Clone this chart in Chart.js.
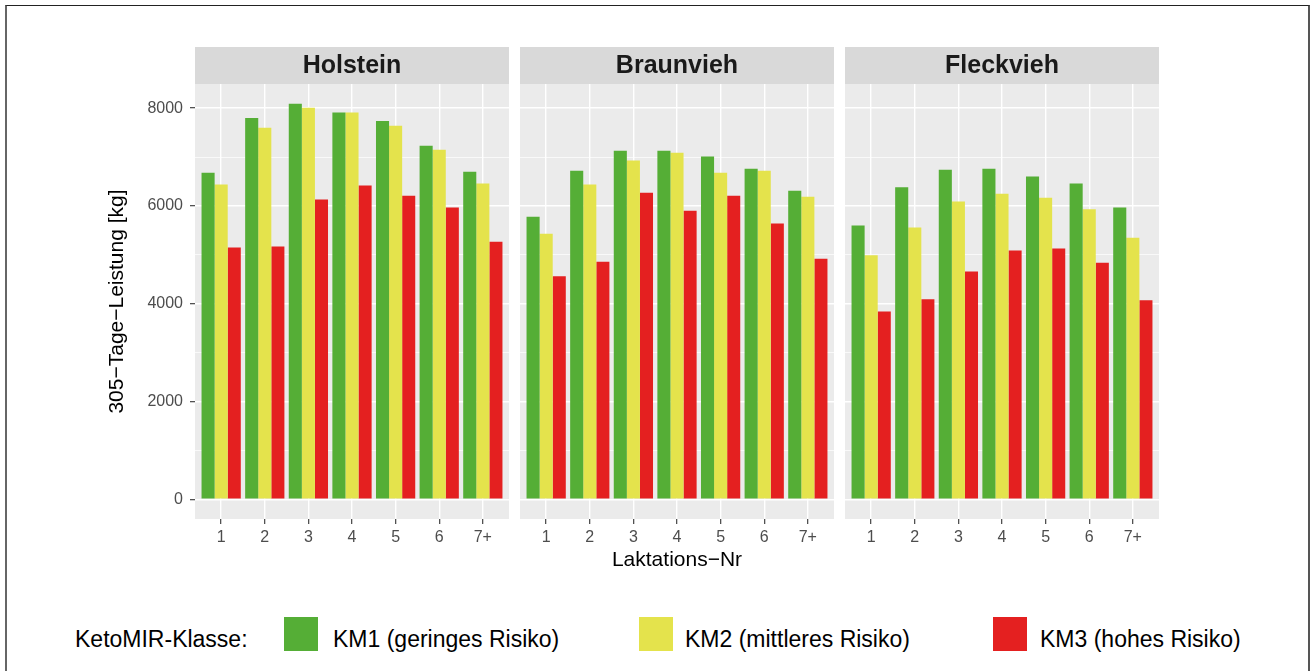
<!DOCTYPE html>
<html>
<head>
<meta charset="utf-8">
<script src="https://cdn.jsdelivr.net/npm/chart.js@4/dist/chart.umd.min.js"></script>
<style>
  body { margin: 0; width: 1311px; height: 671px; background: #fff; overflow: hidden;
         font-family: "Liberation Sans", Arial, Helvetica, sans-serif; position: relative; }
  .frame { position: absolute; left: 5px; top: 5px; width: 1301px; height: 700px;
           border-top: 1px solid #222; border-left: 2px solid #666; border-right: 2px solid #555; }
  canvas { position: absolute; }
  .xtitle { position: absolute; left: 195px; width: 964px; top: 546px; height: 25px; line-height: 25px;
            text-align: center; font-size: 21px; color: #000; }
  .lg-text { position: absolute; top: 625px; height: 28px; line-height: 28px; font-size: 23px; color: #000; white-space: nowrap; }
  .lg-box { position: absolute; top: 617px; width: 34px; height: 34px; }
</style>
</head>
<body>
<div class="frame"></div>
<canvas id="p0" width="409" height="537" style="left:100px; top:47px;"></canvas>
<canvas id="p1" width="314" height="537" style="left:520px; top:47px;"></canvas>
<canvas id="p2" width="314" height="537" style="left:845px; top:47px;"></canvas>
<div class="xtitle">Laktations−Nr</div>
<div id="legend"></div>
<script>
// Daten
const breeds = ['Holstein', 'Braunvieh', 'Fleckvieh'];
const laktLabels = ['1', '2', '3', '4', '5', '6', '7+'];
const laktPos = [1, 2, 3, 4, 5, 6, 7];
const classLabels = ['KM1 (geringes Risiko)', 'KM2 (mittleres Risiko)', 'KM3 (hohes Risiko)'];
const classColors = ['#55ae36', '#e4e34c', '#e42020'];

const holsteinKM1 = [6680, 7800, 8090, 7910, 7740, 7230, 6700];
const holsteinKM2 = [6440, 7600, 8010, 7910, 7640, 7150, 6460];
const holsteinKM3 = [5150, 5170, 6130, 6420, 6210, 5970, 5270];

const braunviehKM1 = [5780, 6720, 7130, 7130, 7010, 6760, 6310];
const braunviehKM2 = [5430, 6440, 6930, 7090, 6680, 6720, 6190];
const braunviehKM3 = [4560, 4860, 6270, 5900, 6210, 5640, 4920];

const fleckviehKM1 = [5600, 6380, 6740, 6760, 6600, 6460, 5970];
const fleckviehKM2 = [4990, 5560, 6090, 6250, 6170, 5930, 5350];
const fleckviehKM3 = [3840, 4090, 4660, 5090, 5130, 4840, 4070];

// Gitterlinien (Haupt- und Nebenlinien) und beschriftete Werte
const yGrid = [0, 1000, 2000, 3000, 4000, 5000, 6000, 7000, 8000];
const yTicks = [0, 2000, 4000, 6000, 8000];

const panelSeries = [
    [holsteinKM1, holsteinKM2, holsteinKM3],
    [braunviehKM1, braunviehKM2, braunviehKM3],
    [fleckviehKM1, fleckviehKM2, fleckviehKM3]
];

Chart.defaults.font.family = '"Liberation Sans", Arial, Helvetica, sans-serif';

// Panel-Hintergrund und Streifen mit Rassenname
const facetPlugin = {
    id: 'facet',
    beforeDraw(chart, args, opts) {
        const a = chart.chartArea;
        const c = chart.ctx;
        c.save();
        c.fillStyle = '#ebebeb';
        c.fillRect(a.left, a.top, a.right - a.left, a.bottom - a.top);
        c.fillStyle = '#d9d9d9';
        c.fillRect(a.left, 0, a.right - a.left, a.top);
        c.fillStyle = '#1a1a1a';
        c.font = 'bold 25px "Liberation Sans", Arial, sans-serif';
        c.textAlign = 'center';
        c.textBaseline = 'middle';
        c.fillText(opts.title, (a.left + a.right) / 2, a.top / 2 + 1);
        c.restore();
    }
};

breeds.forEach((breed, p) => {
    const first = p === 0;
    const datasets = panelSeries[p].map((vals, k) => ({
        label: classLabels[k],
        data: vals.map((v, i) => ({ x: laktPos[i], y: v })),
        backgroundColor: classColors[k],
        borderWidth: 0,
        categoryPercentage: 0.9,
        barPercentage: 1.0
    }));

    new Chart(document.getElementById('p' + p), {
        type: 'bar',
        data: { datasets },
        options: {
            responsive: false,
            animation: false,
            devicePixelRatio: 1,
            layout: { padding: { top: 37, left: 0, right: 0, bottom: 0 } },
            plugins: {
                legend: { display: false },
                tooltip: { enabled: false },
                facet: { title: breed }
            },
            scales: {
                x: {
                    type: 'linear',
                    min: 0.4,
                    max: 7.6,
                    offset: false,
                    border: { display: false },
                    grid: {
                        offset: false,
                        color: '#ffffff',
                        lineWidth: 1.4,
                        drawTicks: true,
                        tickLength: 5,
                        tickColor: '#333333',
                        tickWidth: 1.1
                    },
                    ticks: {
                        autoSkip: false,
                        maxRotation: 0,
                        padding: 4,
                        color: '#4d4d4d',
                        font: { size: 16 },
                        callback: (v) => laktLabels[laktPos.indexOf(v)]
                    },
                    afterBuildTicks: (s) => { s.ticks = laktPos.map(v => ({ value: v })); },
                    afterFit: (s) => { s.height = 65; s.paddingLeft = 0; s.paddingRight = 0; }
                },
                y: {
                    min: -405,
                    max: 8495,
                    border: { display: false },
                    grid: {
                        color: '#ffffff',
                        lineWidth: (ctx) => yTicks.includes(ctx.tick.value) ? 1.4 : 0.7,
                        drawTicks: first,
                        tickLength: 5,
                        tickColor: (ctx) => yTicks.includes(ctx.tick.value) ? '#333333' : 'rgba(0,0,0,0)',
                        tickWidth: 1.1
                    },
                    ticks: {
                        display: first,
                        autoSkip: false,
                        padding: 7,
                        color: '#4d4d4d',
                        font: { size: 16 },
                        callback: (v) => yTicks.includes(v) ? String(v) : ''
                    },
                    afterBuildTicks: (s) => { s.ticks = yGrid.map(v => ({ value: v })); },
                    title: {
                        display: first,
                        text: '305−Tage−Leistung [kg]',
                        color: '#000000',
                        font: { size: 21 },
                        padding: { top: 5, bottom: 0 }
                    },
                    afterFit: (s) => { s.width = first ? 95 : 0; s.paddingTop = 0; s.paddingBottom = 0; }
                }
            }
        },
        plugins: [facetPlugin]
    });
});

// Legende
const legend = document.getElementById('legend');
const addText = (txt, left) => {
    const d = document.createElement('div');
    d.className = 'lg-text';
    d.style.left = left + 'px';
    d.textContent = txt;
    legend.appendChild(d);
};
addText('KetoMIR-Klasse:', 75);
const boxLefts = [284, 639, 993];
const textLefts = [333, 685, 1040];
classLabels.forEach((lbl, k) => {
    const b = document.createElement('div');
    b.className = 'lg-box';
    b.style.left = boxLefts[k] + 'px';
    b.style.background = classColors[k];
    legend.appendChild(b);
    addText(lbl, textLefts[k]);
});
</script>
</body>
</html>
